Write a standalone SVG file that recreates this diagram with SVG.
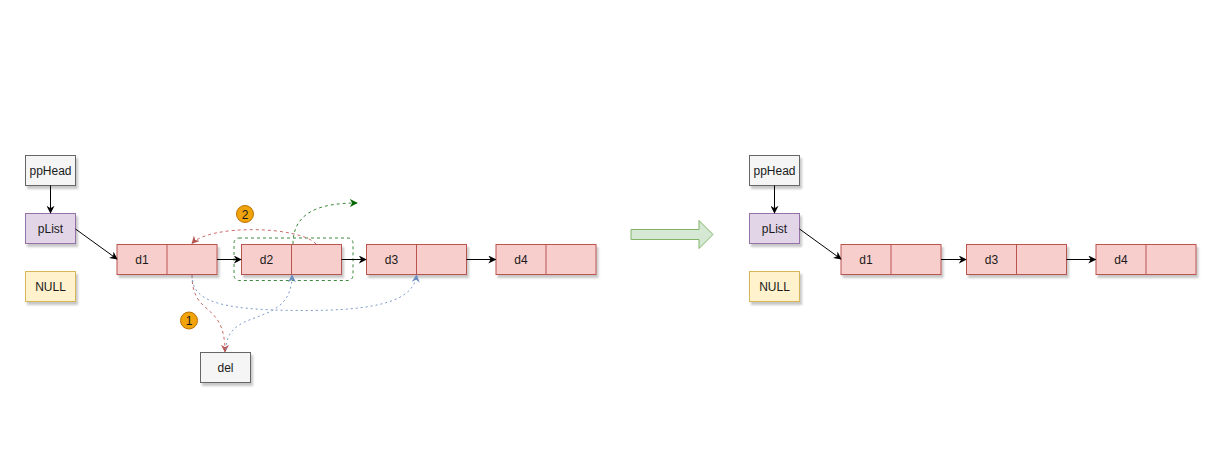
<svg xmlns="http://www.w3.org/2000/svg" width="1214" height="456" viewBox="0 0 1214 456">
<style>
text{font-family:"Liberation Sans",Arial,sans-serif;font-size:12px;fill:#1a1a1a;text-anchor:middle;dominant-baseline:central}
.gray{fill:#f5f5f5;stroke:#666666;stroke-width:1}
.purple{fill:#e1d5e7;stroke:#9673a6;stroke-width:1}
.yellow{fill:#fff2cc;stroke:#d6b656;stroke-width:1}
.red{fill:#f8cecc;stroke:#b85450;stroke-width:1}
.badge{fill:#f0a30a;stroke:#bd7000;stroke-width:1}
.sh{filter:url(#shadow)}
.blk{fill:none;stroke:#000;stroke-width:1}
.rd{fill:none;stroke:#c86c68;stroke-width:1;stroke-dasharray:3 3}
.bl{fill:none;stroke:#7c9bcc;stroke-width:1;stroke-dasharray:2 3}
.gr{fill:none;stroke:#3d8a3d;stroke-width:1;stroke-dasharray:3 3}
</style>
<defs>
<filter id="shadow" x="-20%" y="-20%" width="150%" height="160%">
<feDropShadow dx="2" dy="3" stdDeviation="1" flood-color="#000" flood-opacity="0.22"/>
</filter>
<marker id="aBlk" viewBox="0 0 10 10" refX="9" refY="5" markerWidth="8" markerHeight="8" orient="auto" markerUnits="userSpaceOnUse"><path d="M0,0 L10,5 L0,10 L3,5 Z" fill="#000"/></marker>
<marker id="aRd" viewBox="0 0 10 10" refX="9" refY="5" markerWidth="8" markerHeight="8" orient="auto" markerUnits="userSpaceOnUse"><path d="M0,0 L10,5 L0,10 L3,5 Z" fill="#b85450"/></marker>
<marker id="aBl" viewBox="0 0 10 10" refX="9" refY="5" markerWidth="8" markerHeight="8" orient="auto" markerUnits="userSpaceOnUse"><path d="M0,0 L10,5 L0,10 L3,5 Z" fill="#6c8ebf"/></marker>
<marker id="aGr" viewBox="0 0 10 10" refX="9" refY="5" markerWidth="8" markerHeight="8" orient="auto" markerUnits="userSpaceOnUse"><path d="M0,0 L10,5 L0,10 L3,5 Z" fill="#006600"/></marker>
</defs>
<rect width="1214" height="456" fill="#ffffff"/>

<!-- left side nodes -->
<g id="l-ppHead"><rect class="gray sh" x="25.5" y="155.5" width="50" height="30"/><text x="50.5" y="170.5">ppHead</text></g>
<g id="l-pList"><rect class="purple sh" x="25.5" y="213.5" width="50" height="30"/><text x="50.5" y="228.5">pList</text></g>
<g id="l-NULL"><rect class="yellow sh" x="25.5" y="271.5" width="50" height="30"/><text x="50.5" y="286.5">NULL</text></g>
<g id="l-d1"><rect class="red sh" x="117" y="244.5" width="100" height="30"/><line x1="167" y1="244.5" x2="167" y2="274.5" stroke="#b85450"/><text x="142" y="259.5">d1</text></g>
<g id="l-d2"><rect class="red sh" x="241.5" y="244.5" width="100" height="30"/><line x1="291.5" y1="244.5" x2="291.5" y2="274.5" stroke="#b85450"/><text x="266.5" y="259.5">d2</text></g>
<g id="l-d3"><rect class="red sh" x="366.5" y="244.5" width="100" height="30"/><line x1="416.5" y1="244.5" x2="416.5" y2="274.5" stroke="#b85450"/><text x="391.5" y="259.5">d3</text></g>
<g id="l-d4"><rect class="red sh" x="496" y="244.5" width="100" height="30"/><line x1="546" y1="244.5" x2="546" y2="274.5" stroke="#b85450"/><text x="521" y="259.5">d4</text></g>
<g id="l-del"><rect class="gray sh" x="200.5" y="352.5" width="50" height="30"/><text x="225.5" y="367.5">del</text></g>
<g id="l-box"><rect class="gr" x="234" y="238" width="119" height="42.5" rx="5" ry="5"/></g>
<g id="badge2"><circle class="badge" cx="245" cy="214" r="8.5"/><text x="245" y="214.5">2</text></g>
<g id="badge1"><circle class="badge" cx="189" cy="320.5" r="8.5"/><text x="189" y="321">1</text></g>

<!-- big arrow -->
<g id="bigArrow"><path d="M631,229.5 L699,229.5 L699,220.5 L713,234.5 L699,248.5 L699,239.5 L631,239.5 Z" fill="#d5e8d4" stroke="#82b366" stroke-width="1"/></g>

<!-- right side nodes -->
<g id="r-ppHead"><rect class="gray sh" x="749.5" y="155.5" width="50" height="30"/><text x="774.5" y="170.5">ppHead</text></g>
<g id="r-pList"><rect class="purple sh" x="749.5" y="213.5" width="50" height="30"/><text x="774.5" y="228.5">pList</text></g>
<g id="r-NULL"><rect class="yellow sh" x="749.5" y="271.5" width="50" height="30"/><text x="774.5" y="286.5">NULL</text></g>
<g id="r-d1"><rect class="red sh" x="841" y="244.5" width="100" height="30"/><line x1="891" y1="244.5" x2="891" y2="274.5" stroke="#b85450"/><text x="866" y="259.5">d1</text></g>
<g id="r-d3"><rect class="red sh" x="966.5" y="244.5" width="100" height="30"/><line x1="1016.5" y1="244.5" x2="1016.5" y2="274.5" stroke="#b85450"/><text x="991.5" y="259.5">d3</text></g>
<g id="r-d4"><rect class="red sh" x="1096" y="244.5" width="100" height="30"/><line x1="1146" y1="244.5" x2="1146" y2="274.5" stroke="#b85450"/><text x="1121" y="259.5">d4</text></g>

<!-- connectors -->
<g id="connectors">
<path class="blk" d="M50.5,185.5 L50.5,213" marker-end="url(#aBlk)"/>
<path class="blk" d="M75.5,229 L117,259" marker-end="url(#aBlk)"/>
<path class="blk" d="M217,259.5 L241,259.5" marker-end="url(#aBlk)"/>
<path class="blk" d="M341.5,259.5 L366,259.5" marker-end="url(#aBlk)"/>
<path class="blk" d="M466.5,259.5 L495.5,259.5" marker-end="url(#aBlk)"/>
<path class="rd" d="M316,244 C300,226 210,224 192,243.5" marker-end="url(#aRd)"/>
<path class="gr" d="M293,244 C293,212 320,203 357,203" marker-end="url(#aGr)"/>
<path class="rd" d="M192,275 C192,318 225,300 225,352" marker-end="url(#aRd)"/>
<path class="bl" d="M192,275 C192,300 215,310 300,310.5 C380,311 414,300 416.5,275" marker-end="url(#aBl)"/>
<path class="bl" d="M226,350 C226,305 292,330 292,275" marker-end="url(#aBl)"/>
<path class="blk" d="M774.5,185.5 L774.5,213" marker-end="url(#aBlk)"/>
<path class="blk" d="M799.5,229 L841,259" marker-end="url(#aBlk)"/>
<path class="blk" d="M941,259.5 L966,259.5" marker-end="url(#aBlk)"/>
<path class="blk" d="M1066.5,259.5 L1095.5,259.5" marker-end="url(#aBlk)"/>
</g>
</svg>
